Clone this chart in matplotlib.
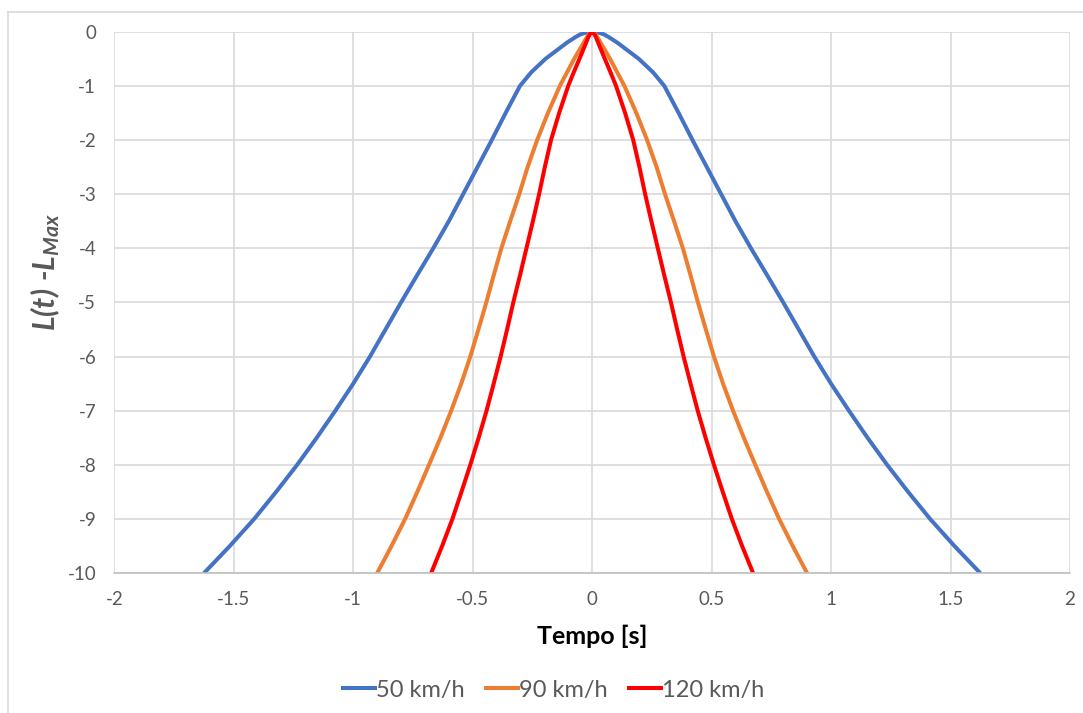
import matplotlib
matplotlib.use('Agg')
import matplotlib.pyplot as plt
from matplotlib.lines import Line2D

plt.rcParams['font.family'] = ['Lato', 'DejaVu Sans']
plt.rcParams['mathtext.fontset'] = 'custom'
plt.rcParams['mathtext.rm'] = 'Lato:bold:italic'
plt.rcParams['mathtext.it'] = 'Lato:bold:italic'
plt.rcParams['mathtext.bf'] = 'Lato:bold:italic'

# Level relative to max (L(t) - L_max), read at fixed levels, left to right
levels = [-10, -9.5, -9, -8.5, -8, -7.5, -7, -6.5, -6, -5.5, -5, -4.5, -4, -3.5, -3, -2.5,
          -2, -1.5, -1, -0.75, -0.5, -0.35, -0.2, -0.1, -0.05, -0.01, 0,
          -0.01, -0.05, -0.1, -0.2, -0.35, -0.5, -0.75, -1, -1.5, -2,
          -2.5, -3, -3.5, -4, -4.5, -5, -5.5, -6, -6.5, -7, -7.5, -8, -8.5, -9, -9.5, -10]

# Time [s] where each curve crosses those levels
t_50 = [-1.625, -1.517, -1.415, -1.323, -1.235, -1.153, -1.075, -1.0, -0.93, -0.865, -0.80, -0.733,
        -0.665, -0.60, -0.54, -0.48, -0.42, -0.362, -0.302, -0.255, -0.195, -0.15, -0.105, -0.07,
        -0.05, -0.022, 0.0,
        0.022, 0.05, 0.07, 0.105, 0.15, 0.195, 0.255, 0.302, 0.362, 0.42, 0.48, 0.54, 0.60, 0.665,
        0.733, 0.80, 0.865, 0.93, 1.0, 1.075, 1.153, 1.235, 1.323, 1.415, 1.517, 1.625]
t_90 = [-0.90, -0.84, -0.783, -0.732, -0.683, -0.635, -0.59, -0.548, -0.51, -0.476, -0.443, -0.412,
        -0.38, -0.343, -0.305, -0.27, -0.23, -0.185, -0.135, -0.105, -0.075, -0.055, -0.035, -0.022,
        -0.015, -0.006, 0.0,
        0.006, 0.015, 0.022, 0.035, 0.055, 0.075, 0.105, 0.135, 0.185, 0.23, 0.27, 0.305, 0.343,
        0.38, 0.412, 0.443, 0.476, 0.51, 0.548, 0.59, 0.635, 0.683, 0.732, 0.783, 0.84, 0.90]
t_120 = [-0.674, -0.628, -0.585, -0.547, -0.51, -0.475, -0.442, -0.412, -0.383, -0.356, -0.33, -0.302,
         -0.275, -0.248, -0.222, -0.198, -0.172, -0.138, -0.10, -0.077, -0.053, -0.039, -0.025, -0.016,
         -0.01, -0.004, 0.0,
         0.004, 0.01, 0.016, 0.025, 0.039, 0.053, 0.077, 0.10, 0.138, 0.172, 0.198, 0.222, 0.248,
         0.275, 0.302, 0.33, 0.356, 0.383, 0.412, 0.442, 0.475, 0.51, 0.547, 0.585, 0.628, 0.674]

series = [('50 km/h', t_50, '#4472C4'),
          ('90 km/h', t_90, '#ED7D31'),
          ('120 km/h', t_120, '#FF0000')]

fig = plt.figure(figsize=(10.83, 7.13), dpi=100)
ax = fig.add_axes([0.1055, 0.196, 0.8825, 0.7595])

for name, t, col in series:
    ax.plot(t, levels, color=col, lw=2.9, label=name, solid_capstyle='butt',
            solid_joinstyle='round')

ax.set_xlim(-2, 2)
ax.set_ylim(-10, 0)
ax.set_xticks([-2, -1.5, -1, -0.5, 0, 0.5, 1, 1.5, 2])
ax.set_xticklabels(['-2', '-1.5', '-1', '-0.5', '0', '0.5', '1', '1.5', '2'])
ax.set_yticks(range(-10, 1))
ax.set_yticklabels([str(v) for v in range(-10, 1)])
ax.tick_params(length=0, labelsize=13.5, labelcolor='#595959')
ax.tick_params(axis='y', pad=13)
ax.tick_params(axis='x', pad=13)

ax.grid(True, color='#d9d9d9', lw=1.2)
ax.set_axisbelow(True)
for side in ['top', 'right', 'left']:
    ax.spines[side].set_visible(False)
ax.spines['bottom'].set_color('#bfbfbf')
ax.spines['bottom'].set_linewidth(1.2)

ax.set_xlabel('Tempo [s]', fontsize=18, fontweight='bold', color='black', labelpad=12)
ax.set_ylabel(r'$L(t)\ \text{-}L_{Max}$', fontsize=22, color='#595959')
ax.yaxis.set_label_coords(-0.055, 0.556)

handles = [Line2D([0], [0], color=c, lw=2.9) for _, _, c in series]
fig.legend(handles, [s[0] for s in series], loc='center', bbox_to_anchor=(0.511, 0.032),
           ncol=3, frameon=False, fontsize=17, handlelength=1.35, handletextpad=0.05,
           columnspacing=0.9, labelcolor='#595959')

# outer chart frame (top and left edges visible)
fig.add_artist(Line2D([8 / 1083, 1.0], [1 - 12 / 713, 1 - 12 / 713], color='#d9d9d9', lw=1.2,
                      transform=fig.transFigure))
fig.add_artist(Line2D([8 / 1083, 8 / 1083], [0.0, 1 - 12 / 713], color='#d9d9d9', lw=1.2,
                      transform=fig.transFigure))

fig.savefig('out.png', dpi=100)
